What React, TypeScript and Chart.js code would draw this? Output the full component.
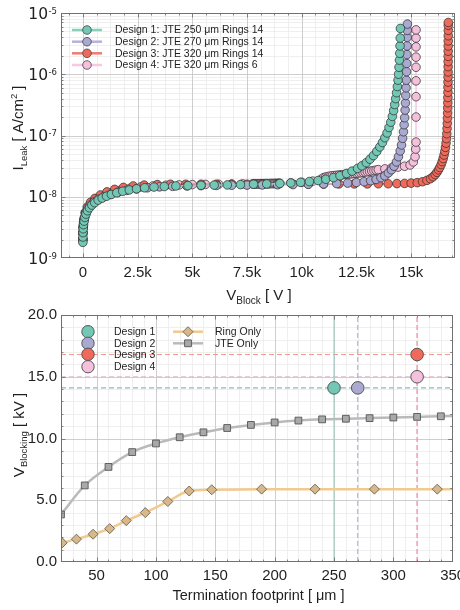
import React, { useEffect, useRef } from 'react';
import { Chart, registerables } from 'chart.js';

Chart.register(...registerables);

const FONT = '"Liberation Sans", Arial, Helvetica, sans-serif';
const MATH_FONT = '"DejaVu Sans", "Liberation Sans", sans-serif';
const INK = '#1f1f1f';

// ---------------- Top panel: leakage current vs blocking voltage ----------------
const topSeriesLabels = [
  'Design 1: JTE 250 μm Rings 14',
  'Design 2: JTE 270 μm Rings 14',
  'Design 3: JTE 320 μm Rings 14',
  'Design 4: JTE 320 μm Rings 6',
];

const d1V = [0, 0, 5, 15, 30, 55, 90, 140, 210, 300, 410, 540, 700, 880, 1080, 1300, 1550, 1820, 2120, 2450, 2820, 3250, 3720, 4250, 4800, 5400, 6000, 6600, 7200, 7800, 8400, 9000, 9500, 9950, 10350, 10750, 11100, 11450, 11750, 12050, 12300, 12550, 12750, 12950, 13120, 13280, 13430, 13570, 13690, 13800, 13900, 13990, 14070, 14140, 14200, 14250, 14295, 14335, 14370, 14400, 14425, 14445, 14465, 14480, 14492, 14502, 14510];
const d1I = [1.8e-9, 2.2e-9, 2.6e-9, 3.0e-9, 3.5e-9, 4.0e-9, 4.6e-9, 5.2e-9, 5.9e-9, 6.6e-9, 7.3e-9, 8.0e-9, 8.8e-9, 9.5e-9, 1.02e-8, 1.09e-8, 1.16e-8, 1.23e-8, 1.29e-8, 1.35e-8, 1.4e-8, 1.44e-8, 1.47e-8, 1.5e-8, 1.52e-8, 1.54e-8, 1.55e-8, 1.56e-8, 1.58e-8, 1.6e-8, 1.62e-8, 1.65e-8, 1.68e-8, 1.72e-8, 1.77e-8, 1.84e-8, 1.93e-8, 2.05e-8, 2.2e-8, 2.4e-8, 2.62e-8, 2.9e-8, 3.2e-8, 3.6e-8, 4.1e-8, 4.7e-8, 5.5e-8, 6.5e-8, 7.7e-8, 9.2e-8, 1.1e-7, 1.35e-7, 1.65e-7, 2.05e-7, 2.55e-7, 3.2e-7, 4.0e-7, 5.0e-7, 6.3e-7, 8.0e-7, 1.0e-6, 1.3e-6, 1.7e-6, 2.2e-6, 2.9e-6, 3.9e-6, 5.6e-6];

const d2V = [0, 0, 10, 30, 70, 130, 220, 340, 500, 700, 950, 1250, 1600, 2000, 2450, 2950, 3500, 4100, 4750, 5400, 6100, 6800, 7500, 8200, 8900, 9600, 10300, 11000, 11600, 12100, 12500, 12850, 13150, 13400, 13620, 13800, 13960, 14100, 14220, 14330, 14420, 14500, 14560, 14610, 14650, 14680, 14705, 14725, 14740, 14755, 14768, 14780, 14790, 14800, 14808, 14815, 14820, 14825, 14830];
const d2I = [2.0e-9, 2.5e-9, 3.1e-9, 3.8e-9, 4.6e-9, 5.5e-9, 6.4e-9, 7.3e-9, 8.2e-9, 9.1e-9, 1.0e-8, 1.09e-8, 1.18e-8, 1.27e-8, 1.34e-8, 1.4e-8, 1.45e-8, 1.48e-8, 1.5e-8, 1.52e-8, 1.53e-8, 1.54e-8, 1.55e-8, 1.56e-8, 1.57e-8, 1.58e-8, 1.6e-8, 1.62e-8, 1.64e-8, 1.67e-8, 1.71e-8, 1.76e-8, 1.83e-8, 1.92e-8, 2.05e-8, 2.2e-8, 2.45e-8, 2.75e-8, 3.15e-8, 3.7e-8, 4.5e-8, 5.6e-8, 7.0e-8, 9.0e-8, 1.15e-7, 1.5e-7, 1.95e-7, 2.6e-7, 3.4e-7, 4.5e-7, 6.0e-7, 8.0e-7, 1.1e-6, 1.5e-6, 2.1e-6, 2.9e-6, 4.0e-6, 5.2e-6, 6.6e-6];

const d3V = [0, 0, 10, 40, 100, 200, 350, 550, 800, 1100, 1450, 1850, 2300, 2800, 3400, 4000, 4700, 5400, 6100, 6800, 7500, 8200, 8900, 9600, 10300, 11000, 11700, 12400, 13000, 13500, 13950, 14350, 14700, 15000, 15280, 15520, 15720, 15880, 16000, 16100, 16180, 16250, 16310, 16370, 16420, 16465, 16505, 16540, 16570, 16595, 16615, 16630, 16642, 16652, 16660, 16666, 16671, 16675, 16678, 16681, 16683, 16685, 16687, 16689, 16690, 16691, 16692, 16693, 16694, 16695, 16696, 16697, 16698, 16699];
const d3I = [2.0e-9, 2.6e-9, 3.2e-9, 4.2e-9, 5.5e-9, 6.8e-9, 8.1e-9, 9.4e-9, 1.07e-8, 1.2e-8, 1.32e-8, 1.42e-8, 1.5e-8, 1.55e-8, 1.58e-8, 1.6e-8, 1.6e-8, 1.6e-8, 1.6e-8, 1.6e-8, 1.6e-8, 1.6e-8, 1.61e-8, 1.61e-8, 1.61e-8, 1.61e-8, 1.62e-8, 1.62e-8, 1.62e-8, 1.63e-8, 1.63e-8, 1.64e-8, 1.65e-8, 1.67e-8, 1.7e-8, 1.76e-8, 1.85e-8, 1.97e-8, 2.12e-8, 2.3e-8, 2.5e-8, 2.75e-8, 3.0e-8, 3.35e-8, 3.75e-8, 4.2e-8, 4.8e-8, 5.5e-8, 6.4e-8, 7.5e-8, 8.9e-8, 1.07e-7, 1.3e-7, 1.58e-7, 1.92e-7, 2.33e-7, 2.83e-7, 3.43e-7, 4.17e-7, 5.06e-7, 6.14e-7, 7.45e-7, 9.0e-7, 1.09e-6, 1.33e-6, 1.61e-6, 1.96e-6, 2.38e-6, 2.89e-6, 3.5e-6, 4.25e-6, 5.2e-6, 6.3e-6, 7.0e-6];

const d4V = [0, 0, 20, 60, 130, 250, 420, 650, 950, 1300, 1700, 2150, 2650, 3200, 3800, 4400, 5000, 5600, 6200, 6800, 7300,
  7750, 7800, 7850, 7900, 7950, 8000, 8050, 8100, 8150, 8200, 8250, 8300, 8350, 8400, 8450, 8500, 8550, 8600, 8650, 8700, 8750, 8800, 8850, 8900, 8950, 9000,
  9500, 10000, 10500, 10900,
  11000, 11100, 11200, 11300, 11400, 11500, 11600, 11700, 11800, 11900, 12000, 12100, 12200, 12300, 12400, 12500, 12600, 12700, 12800, 12900, 13000, 13100, 13200, 13300, 13400, 13500,
  13800, 14100, 14400, 14700, 14950, 15100, 15180, 15210,
  15224, 15224, 15224, 15224, 15224, 15224, 15224, 15224, 15224];
const d4I = [2.0e-9, 2.6e-9, 3.4e-9, 4.3e-9, 5.3e-9, 6.5e-9, 7.7e-9, 9.0e-9, 1.03e-8, 1.15e-8, 1.27e-8, 1.37e-8, 1.45e-8, 1.5e-8, 1.54e-8, 1.56e-8, 1.58e-8, 1.59e-8, 1.6e-8, 1.61e-8, 1.62e-8,
  1.62e-8, 1.62e-8, 1.63e-8, 1.62e-8, 1.63e-8, 1.63e-8, 1.62e-8, 1.63e-8, 1.64e-8, 1.63e-8, 1.63e-8, 1.64e-8, 1.63e-8, 1.64e-8, 1.64e-8, 1.63e-8, 1.64e-8, 1.65e-8, 1.64e-8, 1.64e-8, 1.65e-8, 1.65e-8, 1.64e-8, 1.65e-8, 1.66e-8, 1.65e-8,
  1.68e-8, 1.72e-8, 1.8e-8, 1.95e-8,
  2.05e-8, 2.1e-8, 2.14e-8, 2.17e-8, 2.2e-8, 2.22e-8, 2.24e-8, 2.26e-8, 2.28e-8, 2.3e-8, 2.32e-8, 2.34e-8, 2.36e-8, 2.38e-8, 2.4e-8, 2.42e-8, 2.44e-8, 2.47e-8, 2.5e-8, 2.53e-8, 2.56e-8, 2.6e-8, 2.64e-8, 2.68e-8, 2.72e-8, 2.77e-8,
  2.85e-8, 2.95e-8, 3.05e-8, 3.15e-8, 3.3e-8, 3.7e-8, 4.5e-8, 6.0e-8,
  7.8e-8, 2.0e-7, 4.3e-7, 7.8e-7, 1.3e-6, 1.9e-6, 2.8e-6, 3.9e-6, 5.3e-6];

const topXTicks = [0, 2500, 5000, 7500, 10000, 12500, 15000];
const topXTickLabels = ['0', '2.5k', '5k', '7.5k', '10k', '12.5k', '15k'];
const topXRange = [-1000, 17000];
const topYExponents = [-9, -8, -7, -6, -5];

// ---------------- Bottom panel: blocking voltage vs termination footprint ----------------
const designLabels = ['Design 1', 'Design 2', 'Design 3', 'Design 4'];
const designFootprint = [250, 270, 320, 320];
const designBlocking = [14.1, 14.1, 16.8, 15.0];

const bottomSeriesLabels = ['Ring Only', 'JTE Only'];
const ringOnlyFootprint = [21, 33, 47, 61, 75, 91, 110, 128, 147, 189, 234, 284, 337, 360];
const ringOnlyBlocking = [1.55, 1.85, 2.25, 2.7, 3.35, 4.0, 4.9, 5.75, 5.85, 5.9, 5.9, 5.9, 5.9, 5.9];
const jteOnlyFootprint = [20, 40, 60, 80, 100, 120, 140, 160, 180, 200, 220, 240, 260, 280, 300, 320, 340, 360];
const jteOnlyBlocking = [3.85, 6.2, 7.7, 8.9, 9.6, 10.1, 10.5, 10.85, 11.1, 11.3, 11.45, 11.55, 11.6, 11.65, 11.7, 11.75, 11.8, 11.85];

const bottomXTicks = [50, 100, 150, 200, 250, 300, 350];
const bottomXTickLabels = ['50', '100', '150', '200', '250', '300', '350'];
const bottomXRange = [20, 350];
const bottomYTicks = [0, 5, 10, 15, 20];
const bottomYTickLabels = ['0.0', '5.0', '10.0', '15.0', '20.0'];
const bottomYRange = [0, 20];

// ---------------- colours ----------------
const designFill = ['#72c8b4', '#aaa9d2', '#ee6a5b', '#f5c0dc'];
const designLine = ['#86d0be', '#b5b3da', '#f07d70', '#f6c8e1'];
const refHColor = ['#8ccfbf', '#b2b0d8', '#f09a90', '#e6b6d2'];
const refVColor = ['#8fd0c0', '#a9a7d2', '#f07a70', '#eab2d0'];
const refVDash = [[], [5, 3], [5, 3], [5, 3]];
const ringLine = '#f2c98e';
const ringFill = '#d6b88a';
const ringEdge = '#6f6250';
const jteLine = '#bababa';
const jteFill = '#a9a9a9';
const jteEdge = '#555555';

const toPts = (xs: number[], ys: number[]) => xs.map((x, i) => ({ x, y: ys[i] }));

type Part = { t: string; size: number; dy: number; family?: string };

function drawRich(ctx: CanvasRenderingContext2D, parts: Part[], cx: number, cy: number, rotated: boolean) {
  ctx.save();
  ctx.translate(cx, cy);
  if (rotated) ctx.rotate(-Math.PI / 2);
  ctx.textBaseline = 'alphabetic';
  ctx.textAlign = 'left';
  ctx.fillStyle = INK;
  let total = 0;
  const widths = parts.map((p) => {
    ctx.font = `${p.size}px ${p.family || FONT}`;
    const w = ctx.measureText(p.t).width;
    total += w;
    return w;
  });
  let x = -total / 2;
  parts.forEach((p, i) => {
    ctx.font = `${p.size}px ${p.family || FONT}`;
    ctx.fillText(p.t, x, p.dy);
    x += widths[i];
  });
  ctx.restore();
}

type Grid = { xMajor: number[]; xMinor: number[]; yMajor: number[]; yMinor: number[] };

function frameAndGrid(grid: Grid) {
  return {
    id: 'frameAndGrid',
    beforeDatasetsDraw(chart: any) {
      const { ctx, chartArea: a } = chart;
      const sx = chart.scales.x;
      const sy = chart.scales.y;
      ctx.save();
      const vl = (v: number, c: string, w: number) => {
        const p = Math.round(sx.getPixelForValue(v)) + 0.5;
        if (p < a.left || p > a.right) return;
        ctx.strokeStyle = c;
        ctx.lineWidth = w;
        ctx.beginPath();
        ctx.moveTo(p, a.top);
        ctx.lineTo(p, a.bottom);
        ctx.stroke();
      };
      const hl = (v: number, c: string, w: number) => {
        const p = Math.round(sy.getPixelForValue(v)) + 0.5;
        if (p < a.top || p > a.bottom) return;
        ctx.strokeStyle = c;
        ctx.lineWidth = w;
        ctx.beginPath();
        ctx.moveTo(a.left, p);
        ctx.lineTo(a.right, p);
        ctx.stroke();
      };
      grid.xMinor.forEach((v) => vl(v, '#ebebeb', 0.8));
      grid.yMinor.forEach((v) => hl(v, '#ebebeb', 0.8));
      grid.xMajor.forEach((v) => vl(v, '#c8c8c8', 0.9));
      grid.yMajor.forEach((v) => hl(v, '#c8c8c8', 0.9));
      ctx.restore();
    },
    afterDatasetsDraw(chart: any) {
      const { ctx, chartArea: a } = chart;
      const sx = chart.scales.x;
      const sy = chart.scales.y;
      ctx.save();
      ctx.strokeStyle = '#6a6a6a';
      ctx.lineWidth = 0.8;
      const tx = (v: number, len: number) => {
        const p = Math.round(sx.getPixelForValue(v)) + 0.5;
        if (p < a.left || p > a.right) return;
        ctx.beginPath();
        ctx.moveTo(p, a.bottom);
        ctx.lineTo(p, a.bottom - len);
        ctx.moveTo(p, a.top);
        ctx.lineTo(p, a.top + len);
        ctx.stroke();
      };
      const ty = (v: number, len: number) => {
        const p = Math.round(sy.getPixelForValue(v)) + 0.5;
        if (p < a.top || p > a.bottom) return;
        ctx.beginPath();
        ctx.moveTo(a.left, p);
        ctx.lineTo(a.left + len, p);
        ctx.moveTo(a.right, p);
        ctx.lineTo(a.right - len, p);
        ctx.stroke();
      };
      grid.xMinor.forEach((v) => tx(v, 2.5));
      grid.yMinor.forEach((v) => ty(v, 2.5));
      grid.xMajor.forEach((v) => tx(v, 4.5));
      grid.yMajor.forEach((v) => ty(v, 4.5));
      ctx.strokeStyle = '#707070';
      ctx.lineWidth = 1;
      ctx.strokeRect(Math.round(a.left) + 0.5, Math.round(a.top) + 0.5, Math.round(a.right - a.left) - 1, Math.round(a.bottom - a.top) - 1);
      ctx.restore();
    },
  };
}

function circle(ctx: CanvasRenderingContext2D, x: number, y: number, r: number, fill: string, edge: string, w: number) {
  ctx.beginPath();
  ctx.arc(x, y, r, 0, Math.PI * 2);
  ctx.fillStyle = fill;
  ctx.fill();
  ctx.strokeStyle = edge;
  ctx.lineWidth = w;
  ctx.stroke();
}

function topConfig(): any {
  const series = [
    { V: d1V, I: d1I },
    { V: d2V, I: d2I },
    { V: d3V, I: d3I },
    { V: d4V, I: d4I },
  ];
  const xMinor: number[] = [];
  for (let v = Math.ceil(topXRange[0] / 625) * 625; v <= topXRange[1]; v += 625) {
    if (v % 2500 !== 0) xMinor.push(v);
  }
  const yMajor = topYExponents.map((e) => Math.pow(10, e));
  const yMinor: number[] = [];
  for (let i = 0; i < topYExponents.length - 1; i++) {
    for (let k = 2; k <= 9; k++) yMinor.push(k * Math.pow(10, topYExponents[i]));
  }

  const overlay = {
    id: 'topOverlay',
    afterDraw(chart: any) {
      const { ctx } = chart;
      const sy = chart.scales.y;
      // y tick labels 10^n
      ctx.save();
      ctx.fillStyle = INK;
      ctx.textAlign = 'right';
      ctx.textBaseline = 'alphabetic';
      topYExponents.forEach((e) => {
        const y = sy.getPixelForValue(Math.pow(10, e));
        const exp = String(e);
        ctx.font = `8.5px ${MATH_FONT}`;
        const ew = ctx.measureText(exp).width;
        ctx.fillText(exp, 57, y + 0.5);
        ctx.font = `15.5px ${MATH_FONT}`;
        ctx.fillText('10', 57 - ew - 0.5, y + 5.6);
      });
      ctx.restore();

      // legend
      ctx.save();
      const rows = [30, 41.7, 53.3, 65];
      topSeriesLabels.forEach((label, k) => {
        const y = rows[k];
        ctx.strokeStyle = designLine[k];
        ctx.lineWidth = 2.5;
        ctx.beginPath();
        ctx.moveTo(72, y);
        ctx.lineTo(102, y);
        ctx.stroke();
        circle(ctx, 87, y, 4.3, designFill[k], '#444', 0.8);
        ctx.fillStyle = INK;
        ctx.font = `10.5px ${FONT}`;
        ctx.textAlign = 'left';
        ctx.textBaseline = 'middle';
        ctx.fillText(label, 115, y + 0.5);
      });
      ctx.restore();

      // axis titles
      drawRich(ctx, [
        { t: 'I', size: 15, dy: 0 },
        { t: 'Leak', size: 9.5, dy: 3.5 },
        { t: ' [ A/cm', size: 15, dy: 0 },
        { t: '2', size: 9.5, dy: -6.5 },
        { t: ' ]', size: 15, dy: 0 },
      ], 23, 128, true);
      drawRich(ctx, [
        { t: 'V', size: 15, dy: 0 },
        { t: 'Block', size: 10, dy: 3.5 },
        { t: ' [ V ]', size: 15, dy: 0 },
      ], 259, 300, false);
    },
  };

  return {
    type: 'scatter',
    data: {
      datasets: series.map((s, k) => ({
        label: topSeriesLabels[k],
        data: toPts(s.V, s.I),
        showLine: true,
        borderColor: designLine[k],
        borderWidth: 1.5,
        pointRadius: 4.3,
        pointBackgroundColor: designFill[k],
        pointBorderColor: 'rgba(45,45,45,0.9)',
        pointBorderWidth: 0.8,
      })),
    },
    options: {
      responsive: false,
      animation: false,
      devicePixelRatio: 1,
      events: [],
      layout: { padding: { top: 13, right: 3, left: 0, bottom: 0 } },
      plugins: { legend: { display: false }, tooltip: { enabled: false } },
      scales: {
        x: {
          type: 'linear',
          min: topXRange[0],
          max: topXRange[1],
          grid: { display: false, drawTicks: false },
          border: { display: false },
          afterBuildTicks: (s: any) => { s.ticks = topXTicks.map((v) => ({ value: v })); },
          ticks: {
            autoSkip: false,
            maxRotation: 0,
            padding: 6,
            color: INK,
            font: { family: FONT, size: 15 },
            callback: (v: any) => topXTickLabels[topXTicks.indexOf(Number(v))] ?? '',
          },
          afterFit: (s: any) => { s.height = 47; s.paddingLeft = 0; s.paddingRight = 0; },
        },
        y: {
          type: 'logarithmic',
          min: 1e-9,
          max: 1e-5,
          grid: { display: false, drawTicks: false },
          border: { display: false },
          afterBuildTicks: (s: any) => { s.ticks = topYExponents.map((e) => ({ value: Math.pow(10, e) })); },
          ticks: { display: false },
          afterFit: (s: any) => { s.width = 61; s.paddingTop = 0; s.paddingBottom = 0; },
        },
      },
    },
    plugins: [frameAndGrid({ xMajor: topXTicks, xMinor, yMajor, yMinor }), overlay],
  };
}

function diamond(ctx: CanvasRenderingContext2D, x: number, y: number, r: number) {
  ctx.beginPath();
  ctx.moveTo(x, y - r);
  ctx.lineTo(x + r, y);
  ctx.lineTo(x, y + r);
  ctx.lineTo(x - r, y);
  ctx.closePath();
}

function bottomConfig(): any {
  const xMinor: number[] = [];
  for (let v = bottomXRange[0]; v <= bottomXRange[1]; v += 10) if (v % 50 !== 0) xMinor.push(v);
  const yMinor: number[] = [];
  for (let v = bottomYRange[0]; v <= bottomYRange[1]; v += 1) if (v % 5 !== 0) yMinor.push(v);

  const hRefs = designBlocking.map((vb, k) => ({
    data: [{ x: bottomXRange[0], y: vb }, { x: bottomXRange[1], y: vb }],
    showLine: true,
    borderColor: refHColor[k],
    borderWidth: 1,
    borderDash: [5, 3],
    pointRadius: 0,
    order: 20 + k,
  }));
  const vRefs = designFootprint.map((f, k) => ({
    data: [{ x: f, y: bottomYRange[0] }, { x: f, y: bottomYRange[1] }],
    showLine: true,
    borderColor: refVColor[k],
    borderWidth: 1,
    borderDash: refVDash[k],
    pointRadius: 0,
    order: 10 + (3 - k),
  }));
  const curves = [
    {
      label: bottomSeriesLabels[0],
      data: toPts(ringOnlyFootprint, ringOnlyBlocking),
      showLine: true,
      borderColor: ringLine,
      borderWidth: 2.5,
      cubicInterpolationMode: 'monotone',
      pointStyle: 'rectRot',
      pointRadius: 5,
      pointBackgroundColor: ringFill,
      pointBorderColor: ringEdge,
      pointBorderWidth: 0.9,
      order: 5,
    },
    {
      label: bottomSeriesLabels[1],
      data: toPts(jteOnlyFootprint, jteOnlyBlocking),
      showLine: true,
      borderColor: jteLine,
      borderWidth: 2.5,
      cubicInterpolationMode: 'monotone',
      pointStyle: 'rect',
      pointRadius: 4.8,
      pointBackgroundColor: jteFill,
      pointBorderColor: jteEdge,
      pointBorderWidth: 0.9,
      order: 6,
    },
  ];
  const designs = designLabels.map((label, k) => ({
    label,
    data: [{ x: designFootprint[k], y: designBlocking[k] }],
    pointRadius: 6.3,
    pointBackgroundColor: designFill[k],
    pointBorderColor: '#555',
    pointBorderWidth: 1,
    order: k,
  }));

  const overlay = {
    id: 'bottomOverlay',
    afterDraw(chart: any) {
      const { ctx } = chart;
      ctx.save();
      const rows = [26.7, 38.3, 49.3, 61.7];
      designLabels.forEach((label, k) => {
        circle(ctx, 88, rows[k], 6.2, designFill[k], '#555', 1);
        ctx.fillStyle = INK;
        ctx.font = `10.5px ${FONT}`;
        ctx.textAlign = 'left';
        ctx.textBaseline = 'middle';
        ctx.fillText(label, 114, rows[k] + 0.5);
      });
      // Ring Only
      ctx.strokeStyle = ringLine;
      ctx.lineWidth = 2.5;
      ctx.beginPath();
      ctx.moveTo(173, rows[0]);
      ctx.lineTo(203, rows[0]);
      ctx.stroke();
      diamond(ctx, 188, rows[0], 5);
      ctx.fillStyle = ringFill;
      ctx.fill();
      ctx.strokeStyle = ringEdge;
      ctx.lineWidth = 0.9;
      ctx.stroke();
      // JTE Only
      ctx.strokeStyle = jteLine;
      ctx.lineWidth = 2.5;
      ctx.beginPath();
      ctx.moveTo(173, rows[1]);
      ctx.lineTo(203, rows[1]);
      ctx.stroke();
      ctx.beginPath();
      ctx.rect(188 - 3.4, rows[1] - 3.4, 6.8, 6.8);
      ctx.fillStyle = jteFill;
      ctx.fill();
      ctx.strokeStyle = jteEdge;
      ctx.lineWidth = 0.9;
      ctx.stroke();
      ctx.fillStyle = INK;
      ctx.font = `10.5px ${FONT}`;
      ctx.textAlign = 'left';
      ctx.textBaseline = 'middle';
      ctx.fillText(bottomSeriesLabels[0], 215, rows[0] + 0.5);
      ctx.fillText(bottomSeriesLabels[1], 215, rows[1] + 0.5);
      ctx.restore();

      drawRich(ctx, [
        { t: 'V', size: 15, dy: 0 },
        { t: 'Blocking', size: 9.5, dy: 3.5 },
        { t: ' [ kV ]', size: 15, dy: 0 },
      ], 23.5, 130, true);
      drawRich(ctx, [
        { t: 'Termination footprint [ μm ]', size: 14.5, dy: 0 },
      ], 258.5, 295, false);
    },
  };

  return {
    type: 'scatter',
    data: { datasets: [...designs, ...curves, ...vRefs, ...hRefs] },
    options: {
      responsive: false,
      animation: false,
      devicePixelRatio: 1,
      events: [],
      layout: { padding: { top: 10, right: 3, left: 0, bottom: 0 } },
      plugins: { legend: { display: false }, tooltip: { enabled: false } },
      scales: {
        x: {
          type: 'linear',
          min: bottomXRange[0],
          max: bottomXRange[1],
          grid: { display: false, drawTicks: false },
          border: { display: false },
          afterBuildTicks: (s: any) => { s.ticks = bottomXTicks.map((v) => ({ value: v })); },
          ticks: {
            autoSkip: false,
            maxRotation: 0,
            padding: 5,
            color: INK,
            font: { family: FONT, size: 15 },
            callback: (v: any) => bottomXTickLabels[bottomXTicks.indexOf(Number(v))] ?? '',
          },
          afterFit: (s: any) => { s.height = 48; s.paddingLeft = 0; s.paddingRight = 0; },
        },
        y: {
          type: 'linear',
          min: bottomYRange[0],
          max: bottomYRange[1],
          grid: { display: false, drawTicks: false },
          border: { display: false },
          afterBuildTicks: (s: any) => { s.ticks = bottomYTicks.map((v) => ({ value: v })); },
          ticks: {
            padding: 4,
            color: INK,
            font: { family: FONT, size: 15 },
            callback: (v: any) => bottomYTickLabels[bottomYTicks.indexOf(Number(v))] ?? '',
          },
          afterFit: (s: any) => { s.width = 61; s.paddingTop = 0; s.paddingBottom = 0; },
        },
      },
    },
    plugins: [frameAndGrid({ xMajor: bottomXTicks, xMinor, yMajor: bottomYTicks, yMinor }), overlay],
  };
}

export default function App() {
  const topRef = useRef<HTMLCanvasElement>(null);
  const botRef = useRef<HTMLCanvasElement>(null);
  useEffect(() => {
    const c1 = new Chart(topRef.current as HTMLCanvasElement, topConfig());
    const c2 = new Chart(botRef.current as HTMLCanvasElement, bottomConfig());
    return () => {
      c1.destroy();
      c2.destroy();
    };
  }, []);
  return (
    <div style={{ position: 'absolute', left: 0, top: 0, width: 460, height: 610, background: '#ffffff' }}>
      <canvas ref={topRef} width={460} height={305} style={{ position: 'absolute', left: 0, top: 0, width: 460, height: 305 }} />
      <canvas ref={botRef} width={460} height={305} style={{ position: 'absolute', left: 0, top: 305, width: 460, height: 305 }} />
    </div>
  );
}
